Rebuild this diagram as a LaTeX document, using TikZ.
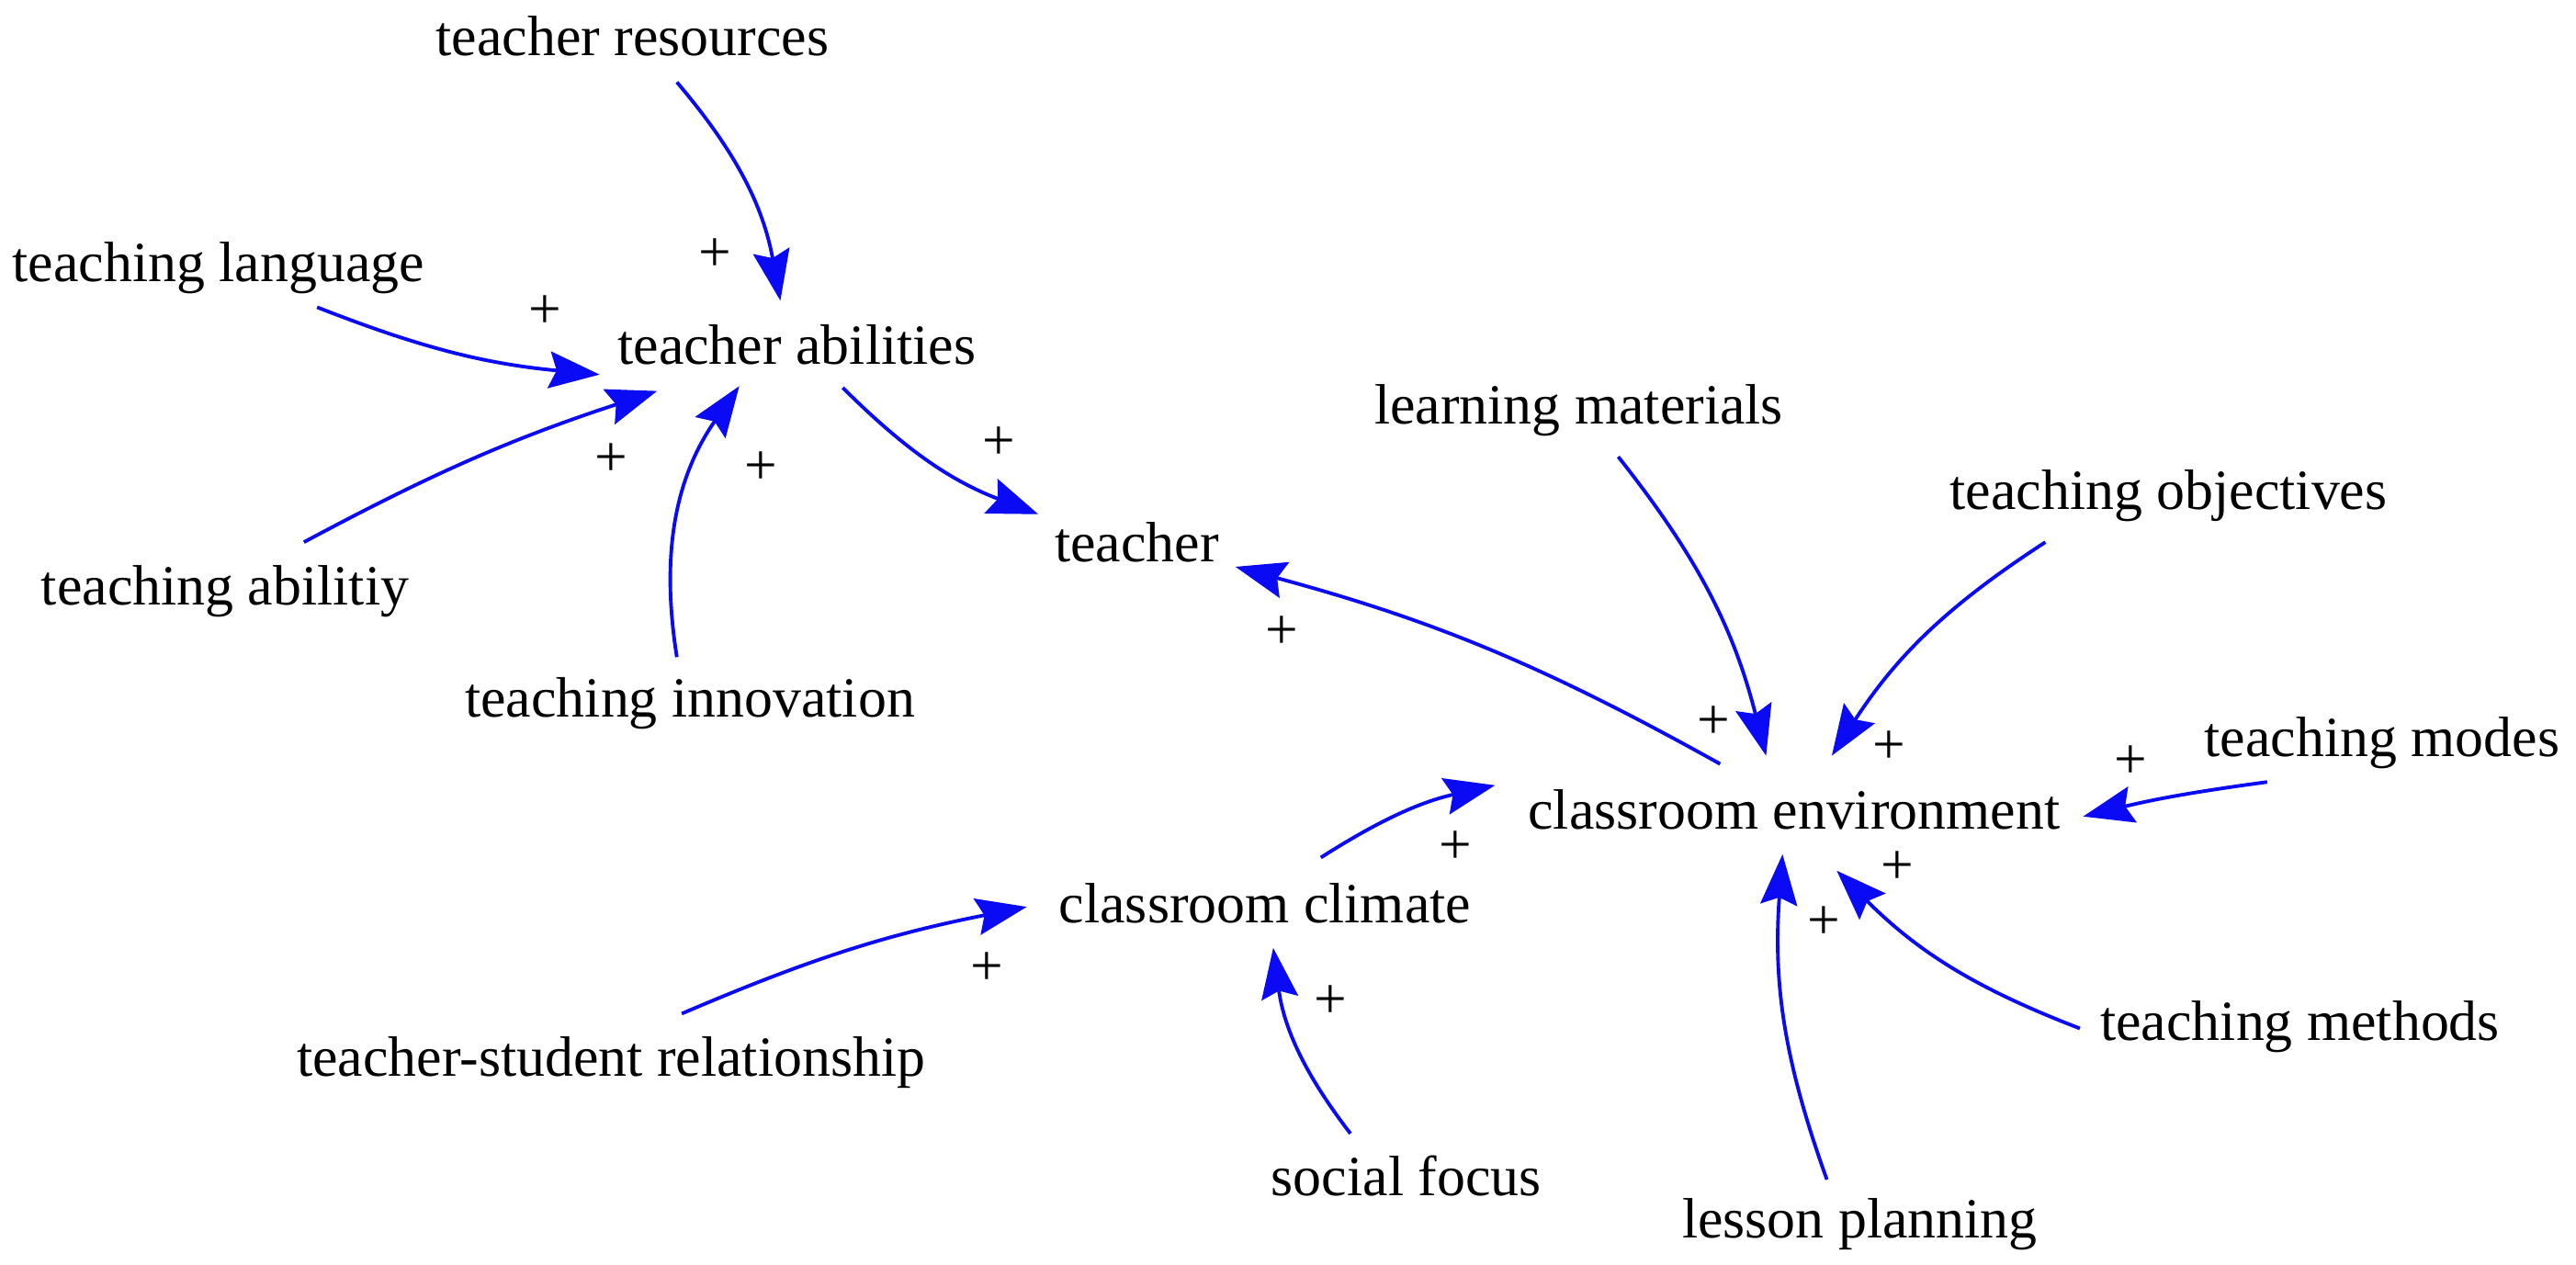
\documentclass[tikz,border=0pt]{standalone}
\usepackage{fontspec}
\setmainfont{Liberation Serif}
\usetikzlibrary{arrows.meta}
\definecolor{lk}{RGB}{10,10,245}
\tikzset{lbl/.style={font=\fontsize{17.6}{19}\selectfont,inner sep=0pt},
pl/.style={font=\fontsize{18}{19}\selectfont,inner sep=0pt},
lnk/.style={draw=lk,line width=1.1pt,-{Stealth[length=0.55cm,width=0.4cm,inset=0.08cm]}}}
\begin{document}
\begin{tikzpicture}[x=0.017883cm,y=-0.017883cm]
\useasboundingbox (0,0) rectangle (1568,770);
\node[lbl] (tr) at (385,22) {teacher resources};
\node[lbl] (tl) at (133,163) {teaching language};
\node[lbl] (ta) at (485,210) {teacher abilities};
\node[lbl] (tab) at (137,360) {teaching abilitiy};
\node[lbl] (ti) at (420,428) {teaching innovation};
\node[lbl] (te) at (692,330) {teacher};
\node[lbl] (lm) at (961,250) {learning materials};
\node[lbl] (to) at (1320,302) {teaching objectives};
\node[lbl] (ce) at (1092,493) {classroom environment};
\node[lbl] (tm) at (1450,452) {teaching modes};
\node[lbl] (cc) at (770,550) {classroom climate};
\node[lbl] (ts) at (372,647) {teacher-student relationship};
\node[lbl] (sf) at (856,716) {social focus};
\node[lbl] (tme) at (1400,625) {teaching methods};
\node[lbl] (lp) at (1132,745) {lesson planning};
\coordinate (a1) at (412,50); \coordinate (b1) at (475,183);
\coordinate (a2) at (193,187); \coordinate (b2) at (365,228);
\coordinate (a3) at (185,330); \coordinate (b3) at (400,238);
\coordinate (a4) at (412,400); \coordinate (b4) at (450,235);
\coordinate (a5) at (513,236); \coordinate (b5) at (632,313);
\coordinate (a6) at (1047,465); \coordinate (b6) at (752,345);
\coordinate (a7) at (985,278); \coordinate (b7) at (1075,460);
\coordinate (a8) at (1245,330); \coordinate (b8) at (1115,460);
\coordinate (a9) at (1380,476); \coordinate (b9) at (1268,497);
\coordinate (a10) at (1266,626); \coordinate (b10) at (1118,530);
\coordinate (a11) at (1112,718); \coordinate (b11) at (1085,520);
\coordinate (a12) at (804,522); \coordinate (b12) at (910,478);
\coordinate (a13) at (415,617); \coordinate (b13) at (625,552);
\coordinate (a14) at (822,690); \coordinate (b14) at (775,577);
\draw[lnk] (a1) to[bend left=15] (b1);
\draw[lnk] (a2) to[bend right=8] (b2);
\draw[lnk] (a3) to[bend left=5] (b3);
\draw[lnk] (a4) to[bend left=22] (b4);
\draw[lnk] (a5) to[bend right=12] (b5);
\draw[lnk] (a6) to[bend right=7] (b6);
\draw[lnk] (a7) to[bend left=12] (b7);
\draw[lnk] (a8) to[bend right=12] (b8);
\draw[lnk] (a9) to[bend right=3] (b9);
\draw[lnk] (a10) to[bend left=12] (b10);
\draw[lnk] (a11) to[bend left=12] (b11);
\draw[lnk] (a12) to[bend left=10] (b12);
\draw[lnk] (a13) to[bend left=6] (b13);
\draw[lnk] (a14) to[bend left=15] (b14);
\foreach \x/\y [count=\i] in {435/155,332/190,372/280,463/285,608/270,780/385,1043/440,1150/455,1297/464,1155/528,1110/562,886/516,601/590,810/610}
  \node[pl] (p\i) at (\x,\y) {+};
\end{tikzpicture}
\end{document}
